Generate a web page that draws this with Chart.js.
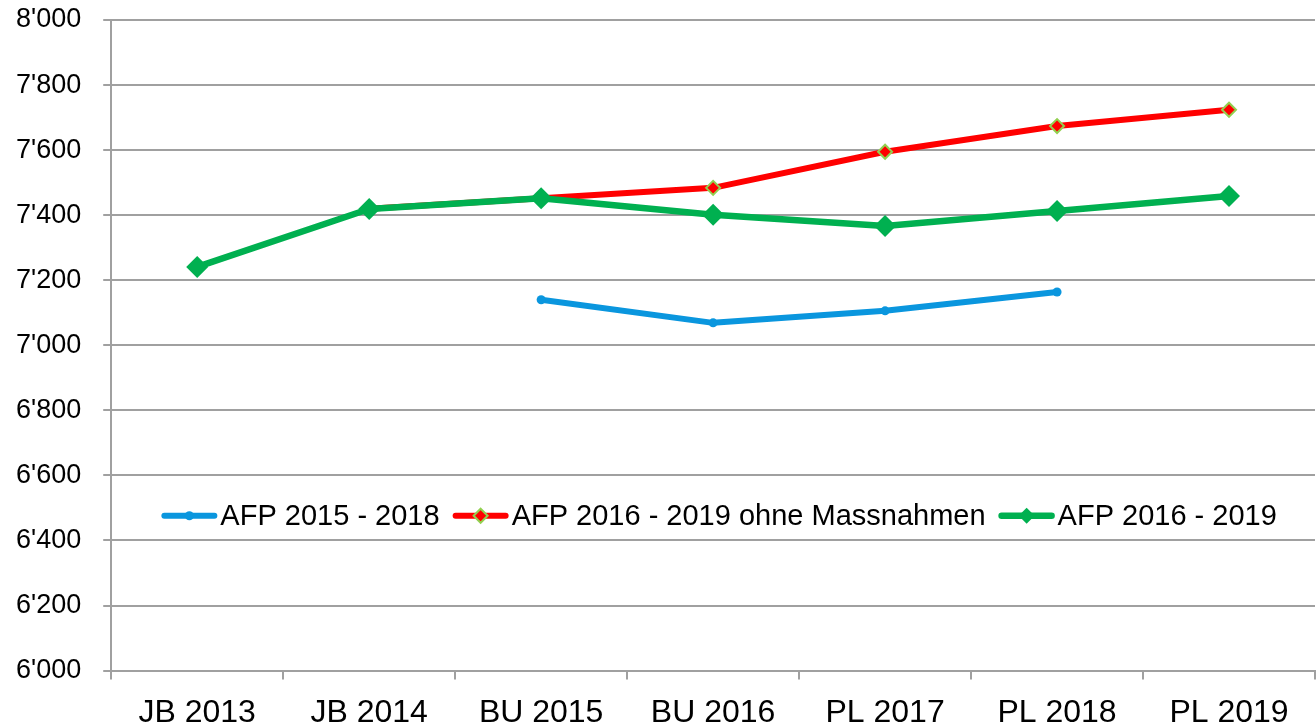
<!DOCTYPE html>
<html>
<head>
<meta charset="utf-8">
<script src="https://cdn.jsdelivr.net/npm/chart.js@4/dist/chart.umd.min.js"></script>
<style>
html,body{margin:0;padding:0;background:#fff;overflow:hidden;}
#wrap{width:1316px;height:724px;position:relative;overflow:hidden;}
#c{position:absolute;left:0;top:0;}
</style>
</head>
<body>
<div id="wrap"><canvas id="c" width="1326" height="724"></canvas></div>
<script>
const categories = ['JB 2013','JB 2014','BU 2015','BU 2016','PL 2017','PL 2018','PL 2019'];
const afp2015_2018 = [null, null, 7140, 7069, 7106, 7164, null];
const afp2016_2019_ohne = [null, 7420, 7452, 7484, 7595, 7674, 7724];
const afp2016_2019 = [7241, 7419, 7452, 7401, 7367, 7413, 7459];
const seriesNames = ['AFP 2015 - 2018', 'AFP 2016 - 2019 ohne Massnahmen', 'AFP 2016 - 2019'];
const yTicks = {min: 6000, max: 8000, step: 200};

const FONT = "'Liberation Sans', Arial, sans-serif";
const GRID = '#a0a0a0';

function fmt(v){ return String(v).replace(/\B(?=(\d{3})+(?!\d))/g, "'"); }

const legendPlugin = {
  id: 'innerLegend',
  afterDraw(chart){
    const ctx = chart.ctx;
    const ca = chart.chartArea;
    const fontSize = 29;
    ctx.save();
    ctx.font = fontSize + 'px ' + FONT;
    const lineLen = 56, gapText = 3, gapItem = 13;
    const items = chart.data.datasets.map(ds => ({ds, w: ctx.measureText(ds.label).width}));
    let total = 0;
    items.forEach((it, i) => { total += lineLen + gapText + it.w + (i < items.length - 1 ? gapItem : 0); });
    let x = (ca.left + ca.right) / 2 - total / 2 + 6;
    const y = ca.top + (ca.bottom - ca.top) * 0.762;
    items.forEach(it => {
      const ds = it.ds;
      ctx.strokeStyle = ds.borderColor;
      ctx.lineWidth = ds.borderWidth;
      ctx.lineCap = 'round';
      ctx.beginPath();
      ctx.moveTo(x + 3, y);
      ctx.lineTo(x + lineLen - 3, y);
      ctx.stroke();
      const cx = x + lineLen / 2;
      const r = ds.legendPointRadius;
      ctx.fillStyle = ds.pointBackgroundColor;
      ctx.strokeStyle = ds.pointBorderColor;
      ctx.lineWidth = ds.pointBorderWidth;
      ctx.beginPath();
      if (ds.pointStyle === 'circle') {
        ctx.arc(cx, y, r, 0, Math.PI * 2);
      } else {
        ctx.moveTo(cx, y - r); ctx.lineTo(cx + r, y); ctx.lineTo(cx, y + r); ctx.lineTo(cx - r, y); ctx.closePath();
      }
      ctx.fill();
      if (ds.pointBorderWidth > 0) ctx.stroke();
      ctx.fillStyle = '#000';
      ctx.textBaseline = 'middle';
      ctx.textAlign = 'left';
      ctx.fillText(ds.label, x + lineLen + gapText, y + 1);
      x += lineLen + gapText + it.w + gapItem;
    });
    ctx.restore();
  }
};

new Chart(document.getElementById('c'), {
  type: 'line',
  data: {
    labels: categories,
    datasets: [
      {
        label: seriesNames[0], data: afp2015_2018, order: 2,
        borderColor: '#0a96de', borderWidth: 6,
        pointStyle: 'circle', pointRadius: 4.5, pointBackgroundColor: '#0a96de', pointBorderColor: '#0a96de', pointBorderWidth: 0,
        legendPointRadius: 4.5, spanGaps: false
      },
      {
        label: seriesNames[1], data: afp2016_2019_ohne, order: 1,
        borderColor: '#ff0000', borderWidth: 6,
        pointStyle: 'rectRot', pointRadius: 7, pointBackgroundColor: '#ff0000', pointBorderColor: '#92d050', pointBorderWidth: 2,
        legendPointRadius: 7
      },
      {
        label: seriesNames[2], data: afp2016_2019, order: 0,
        borderColor: '#00b050', borderWidth: 6.5,
        pointStyle: 'rectRot', pointRadius: 11, pointBackgroundColor: '#00b050', pointBorderColor: '#00b050', pointBorderWidth: 0,
        legendPointRadius: 8
      }
    ]
  },
  options: {
    responsive: false,
    animation: false,
    events: [],
    layout: {padding: {left: -6, right: 0, top: 20, bottom: -22}},
    elements: {line: {tension: 0, borderJoinStyle: 'round', borderCapStyle: 'round'}},
    plugins: {legend: {display: false}, tooltip: {enabled: false}},
    scales: {
      x: {
        offset: true,
        afterFit(s){ s.paddingLeft = 0; s.paddingRight = 0; },
        grid: {display: true, drawOnChartArea: false, offset: true, color: GRID, lineWidth: 2, tickLength: 9},
        border: {display: true, color: GRID, width: 2},
        ticks: {color: '#000', font: {family: FONT, size: 32}, padding: 14, maxRotation: 0, autoSkip: false}
      },
      y: {
        min: yTicks.min, max: yTicks.max,
        afterFit(s){ s.paddingTop = 0; s.paddingBottom = 0; },
        grid: {color: GRID, lineWidth: 2, tickLength: 8},
        border: {display: true, color: GRID, width: 2},
        ticks: {stepSize: yTicks.step, color: '#000', font: {family: FONT, size: 27}, padding: 22, callback: v => fmt(v)}
      }
    }
  },
  plugins: [legendPlugin]
});
</script>
</body>
</html>
